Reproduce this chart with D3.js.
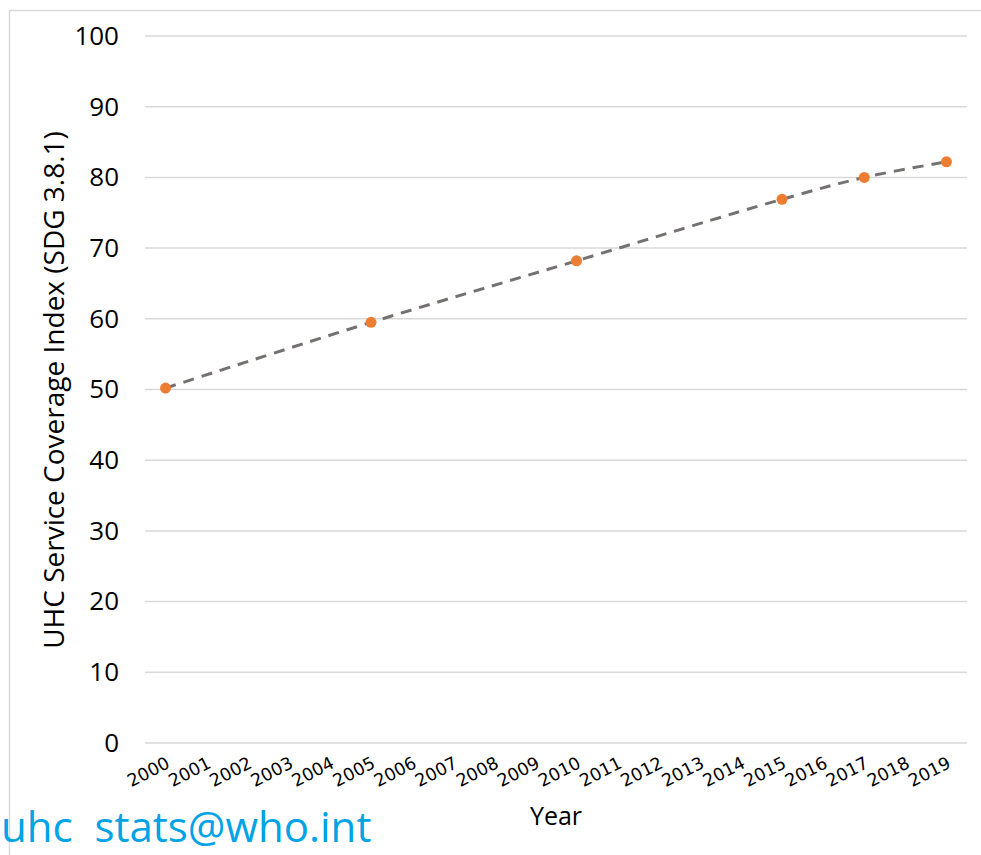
<!DOCTYPE html>
<html>
<head>
<meta charset="utf-8">
<script src="https://cdn.jsdelivr.net/npm/d3@7"></script>
<style>
  body { margin: 0; background: #fff; }
  svg { display: block; }
</style>
</head>
<body>
<script>
// size of the page
var w = 981;
var h = 855;

// data
var years = ["2000","2001","2002","2003","2004","2005","2006","2007","2008","2009",
             "2010","2011","2012","2013","2014","2015","2016","2017","2018","2019"];
var pointYears = ["2000", "2005", "2010", "2015", "2017", "2019"];
var pointValues = [50.2, 59.5, 68.2, 76.9, 80.0, 82.2];
var yTicks = [0, 10, 20, 30, 40, 50, 60, 70, 80, 90, 100];

var margin = {top: 36, right: 14, bottom: 112, left: 145};

var svg = d3.select("body")
            .append("svg")
            .attr("width", w)
            .attr("height", h);

// chart frame
svg.append("rect")
   .attr("x", 9.5)
   .attr("y", 10.5)
   .attr("width", w + 20)
   .attr("height", h + 20)
   .attr("fill", "none")
   .attr("stroke", "#d9d9d9")
   .attr("stroke-width", 1.5);

var x = d3.scalePoint()
          .domain(years)
          .range([margin.left, w - margin.right])
          .padding(0.5);

var y = d3.scaleLinear()
          .domain([0, 100])
          .range([h - margin.bottom, margin.top]);

// gridlines
svg.append("g")
   .selectAll("line")
   .data(yTicks)
   .enter()
   .append("line")
   .attr("x1", margin.left)
   .attr("x2", w - margin.right)
   .attr("y1", function(d) { return y(d); })
   .attr("y2", function(d) { return y(d); })
   .attr("stroke", "#d9d9d9")
   .attr("stroke-width", 1.5);

// y axis labels
var yAxis = svg.append("g")
   .attr("transform", "translate(" + (margin.left - 26) + ",0)")
   .call(d3.axisLeft(y).tickValues(yTicks).tickSize(0).tickPadding(0));
yAxis.select(".domain").remove();
yAxis.selectAll("text")
   .attr("font-family", "'Open Sans', sans-serif")
   .attr("font-size", "26px")
   .attr("fill", "#000");

// x axis labels
var xAxis = svg.append("g")
   .attr("transform", "translate(0," + (h - margin.bottom) + ")")
   .call(d3.axisBottom(x).tickSize(0).tickPadding(0));
xAxis.select(".domain").remove();
xAxis.selectAll("text")
   .attr("font-family", "'DejaVu Sans', sans-serif")
   .attr("font-size", "17.5px")
   .attr("fill", "#000")
   .attr("text-anchor", "end")
   .attr("dy", "0")
   .attr("transform", "translate(5,24) rotate(-27)");

// axis titles
svg.append("text")
   .text("UHC Service Coverage Index (SDG 3.8.1)")
   .attr("transform", "translate(64," + 390 + ") rotate(-90)")
   .attr("text-anchor", "middle")
   .attr("font-family", "'Open Sans', sans-serif")
   .attr("font-size", "28px")
   .attr("fill", "#000");

svg.append("text")
   .text("Year")
   .attr("x", 556)
   .attr("y", 825)
   .attr("text-anchor", "middle")
   .attr("font-family", "'Open Sans', sans-serif")
   .attr("font-size", "25px")
   .attr("fill", "#000");

// dashed trend line
var line = d3.line()
   .x(function(d, i) { return x(pointYears[i]); })
   .y(function(d) { return y(d); })
   .curve(d3.curveCatmullRom.alpha(0.5));

svg.append("path")
   .datum(pointValues)
   .attr("d", line)
   .attr("fill", "none")
   .attr("stroke", "#767171")
   .attr("stroke-width", 3)
   .attr("stroke-dasharray", "11,8");

// points
svg.selectAll("circle")
   .data(pointValues)
   .enter()
   .append("circle")
   .attr("cx", function(d, i) { return x(pointYears[i]); })
   .attr("cy", function(d) { return y(d); })
   .attr("r", 5.5)
   .attr("fill", "#ED7D31");

// contact note
svg.append("text")
   .text("uhc\u00a0\u00a0stats@who.int")
   .attr("x", 1)
   .attr("y", 842)
   .attr("font-family", "'Open Sans', sans-serif")
   .attr("font-size", "42px")
   .attr("fill", "#00a3e6");
</script>
</body>
</html>
